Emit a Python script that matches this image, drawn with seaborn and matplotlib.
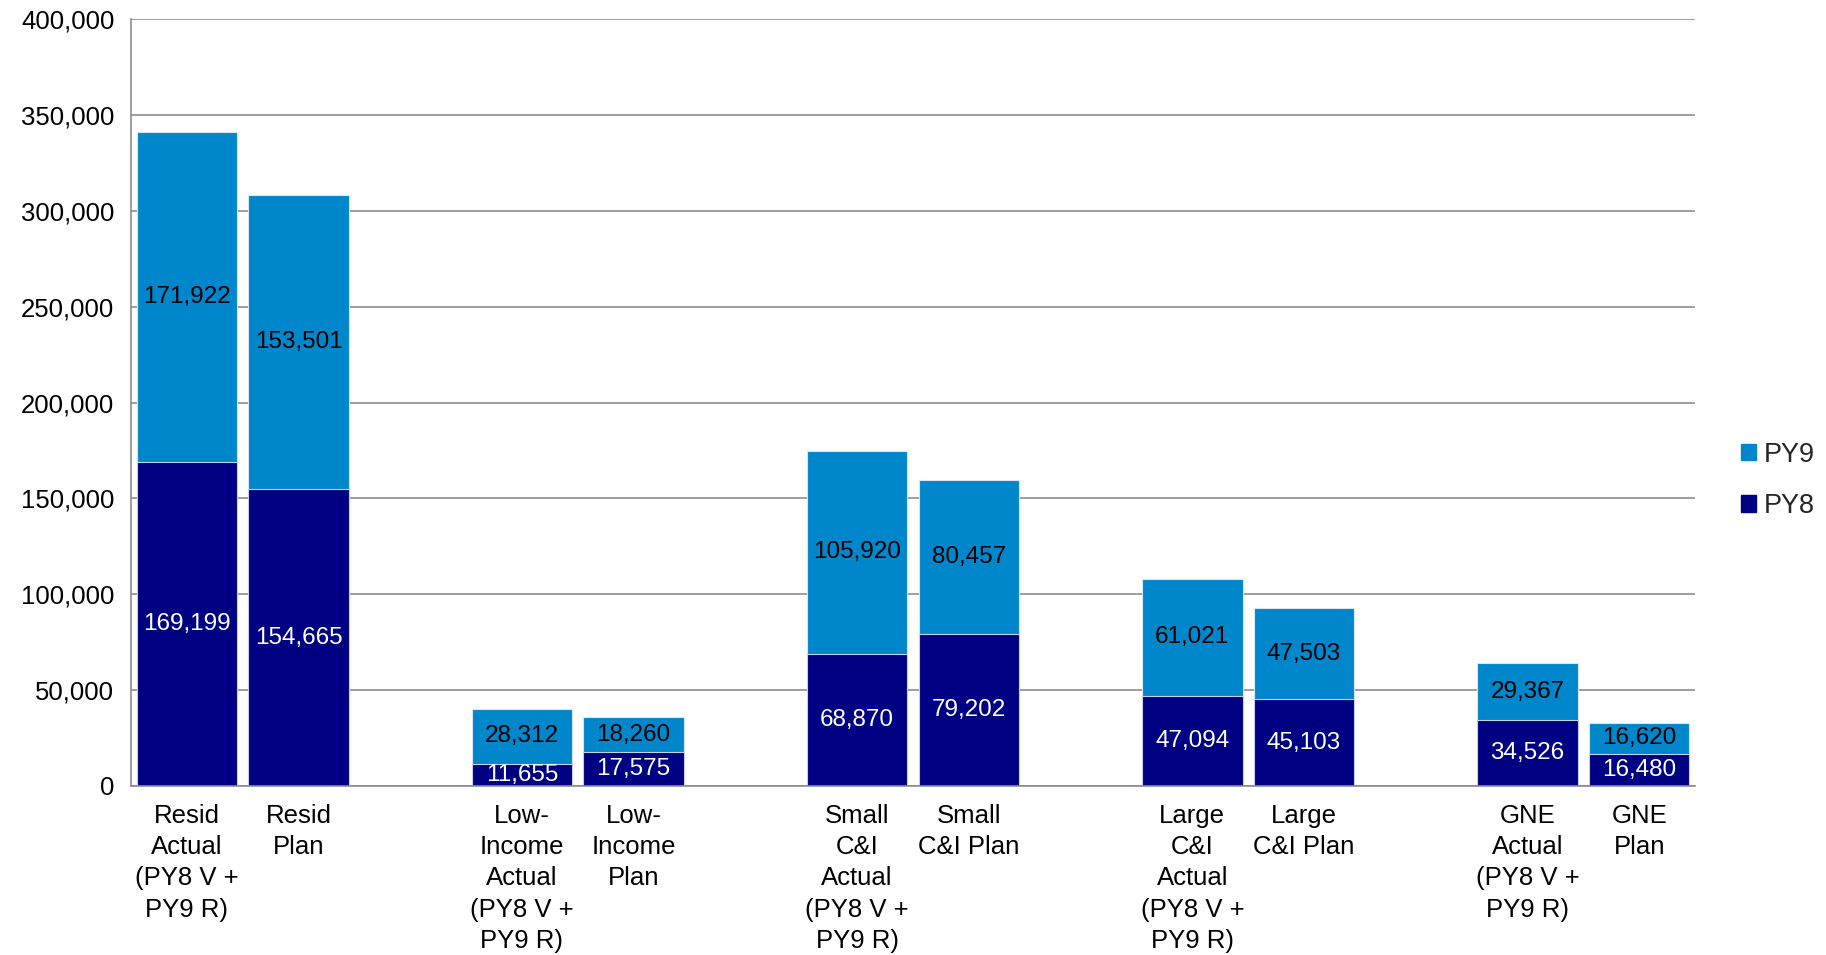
import matplotlib
matplotlib.use("Agg")
import matplotlib.pyplot as plt
import matplotlib.patches as mpatches
from matplotlib.ticker import FuncFormatter, FixedLocator
import seaborn as sns
import pandas as pd
import numpy as np

# Sector labels and values (PY8 = lower segment, PY9 = upper segment)
categories = [
    "Resid\nActual\n(PY8 V +\nPY9 R)", "Resid\nPlan",
    "Low-\nIncome\nActual\n(PY8 V +\nPY9 R)", "Low-\nIncome\nPlan",
    "Small\nC&I\nActual\n(PY8 V +\nPY9 R)", "Small\nC&I Plan",
    "Large\nC&I\nActual\n(PY8 V +\nPY9 R)", "Large\nC&I Plan",
    "GNE\nActual\n(PY8 V +\nPY9 R)", "GNE\nPlan",
]
py8 = [169199, 154665, 11655, 17575, 68870, 79202, 47094, 45103, 34526, 16480]
py9 = [171922, 153501, 28312, 18260, 105920, 80457, 61021, 47503, 29367, 16620]
y_ticks = [0, 50000, 100000, 150000, 200000, 250000, 300000, 350000, 400000]

C_PY9 = "#0087CB"
C_PY8 = "#000082"

sns.set_theme(style="white")
plt.rcParams["font.family"] = ["Liberation Sans", "DejaVu Sans"]

# Slot order: pairs of bars separated by an empty slot
order = []
for i in range(0, len(categories), 2):
    order += [categories[i], categories[i + 1]]
    if i + 2 < len(categories):
        order.append(" " * (i // 2 + 1))

df = pd.DataFrame({"cat": categories, "PY8": py8, "PY9": py9})
df["total"] = df["PY8"] + df["PY9"]

fig = plt.figure(figsize=(18.26, 9.55), dpi=100)
ax = fig.add_axes([0.0717, 0.177, 0.8566, 0.803])

sns.barplot(data=df, x="cat", y="total", order=order, color=C_PY9,
            saturation=1, width=0.9, edgecolor="#d6e6f2", linewidth=0.8, ax=ax)
sns.barplot(data=df, x="cat", y="PY8", order=order, color=C_PY8,
            saturation=1, width=0.9, edgecolor="#c9cfe6", linewidth=0.8, ax=ax)

pos = {c: i for i, c in enumerate(order)}
for c, a, b in zip(categories, py8, py9):
    x = pos[c]
    ax.text(x, a / 2, f"{a:,}", ha="center", va="center", color="white", fontsize=17.5)
    ax.text(x, a + b / 2, f"{b:,}", ha="center", va="center", color="black", fontsize=17.5)

n = len(order)
ax.set_xlim(-0.5, n - 0.5)
ax.set_ylim(0, 400000)
ax.set_yticks(y_ticks)
ax.yaxis.set_major_formatter(FuncFormatter(lambda v, p: f"{int(v):,}"))
ax.grid(axis="y", color="#8c8c8c", linewidth=1.2)
ax.set_axisbelow(True)

ax.set_xticks(range(n))
ax.set_xticklabels([c if c.strip() else "" for c in order], fontsize=18.5,
                   linespacing=1.38, color="black")
ax.tick_params(axis="x", which="major", length=0, pad=13)
ax.xaxis.set_minor_locator(FixedLocator(np.arange(-0.5, n, 1.0)))
ax.tick_params(axis="x", which="minor", length=7, width=1.2, color="#8c8c8c", direction="out")
ax.tick_params(axis="y", length=8, width=1.2, color="#8c8c8c", direction="out",
               labelsize=18.5, labelcolor="black", pad=4)
ax.set_xlabel("")
ax.set_ylabel("")

for s in ["top", "right"]:
    ax.spines[s].set_visible(False)
for s in ["left", "bottom"]:
    ax.spines[s].set_color("#8c8c8c")
    ax.spines[s].set_linewidth(1.2)

handles = [mpatches.Patch(color=C_PY9, label="PY9"),
           mpatches.Patch(color=C_PY8, label="PY8")]
fig.legend(handles=handles, loc="center left", bbox_to_anchor=(0.94, 0.497),
           frameon=False, fontsize=19.5, handlelength=0.55, handleheight=0.55,
           handletextpad=0.3, labelspacing=0.95)

fig.savefig("out.png", dpi=100)
